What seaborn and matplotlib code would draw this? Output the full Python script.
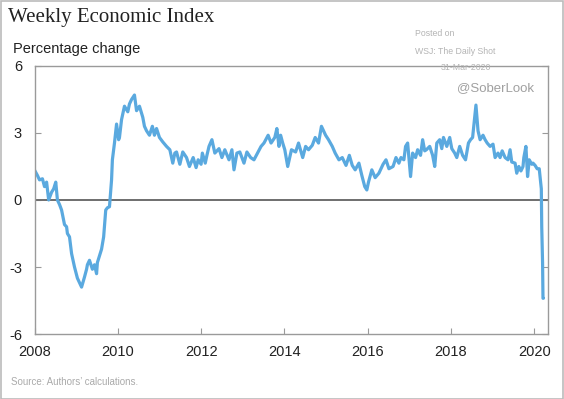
import numpy as np
import pandas as pd
import matplotlib.pyplot as plt
import seaborn as sns
from matplotlib.patches import Rectangle

# Weekly Economic Index (decimal year, percentage change)
years = [
    2008.00, 2008.07, 2008.12, 2008.19, 2008.24, 2008.29, 2008.34, 2008.41, 2008.46, 2008.51,
    2008.55, 2008.60, 2008.65, 2008.72, 2008.77, 2008.79, 2008.84, 2008.89, 2008.96, 2009.03,
    2009.08, 2009.13, 2009.20, 2009.25, 2009.27, 2009.32, 2009.39, 2009.44, 2009.49, 2009.51,
    2009.56, 2009.61, 2009.66, 2009.71, 2009.75, 2009.80, 2009.85, 2009.87, 2009.92, 2009.97,
    2010.02, 2010.04, 2010.09, 2010.16, 2010.24, 2010.28, 2010.33, 2010.40, 2010.45, 2010.52,
    2010.60, 2010.64, 2010.69, 2010.76, 2010.83, 2010.88, 2010.93, 2011.00, 2011.08, 2011.17,
    2011.25, 2011.32, 2011.37, 2011.41, 2011.49, 2011.56, 2011.65, 2011.72, 2011.81, 2011.88,
    2011.93, 2012.00, 2012.03, 2012.10, 2012.14, 2012.19, 2012.26, 2012.33, 2012.43, 2012.50,
    2012.57, 2012.67, 2012.74, 2012.79, 2012.86, 2012.93, 2013.03, 2013.10, 2013.19, 2013.27,
    2013.37, 2013.44, 2013.51, 2013.61, 2013.68, 2013.77, 2013.82, 2013.87, 2013.91, 2013.96,
    2014.01, 2014.08, 2014.17, 2014.27, 2014.34, 2014.44, 2014.51, 2014.58, 2014.67, 2014.74,
    2014.82, 2014.89, 2014.99, 2015.06, 2015.15, 2015.22, 2015.31, 2015.39, 2015.48, 2015.56,
    2015.63, 2015.70, 2015.79, 2015.86, 2015.93, 2015.98, 2016.02, 2016.10, 2016.18, 2016.27,
    2016.37, 2016.44, 2016.51, 2016.61, 2016.68, 2016.75, 2016.80, 2016.87, 2016.91, 2016.96,
    2017.03, 2017.08, 2017.15, 2017.20, 2017.27, 2017.32, 2017.37, 2017.41, 2017.49, 2017.56,
    2017.61, 2017.66, 2017.73, 2017.78, 2017.82, 2017.90, 2017.97, 2018.02, 2018.09, 2018.14,
    2018.21, 2018.28, 2018.35, 2018.42, 2018.47, 2018.52, 2018.60, 2018.65, 2018.70, 2018.77,
    2018.82, 2018.87, 2018.94, 2019.01, 2019.06, 2019.13, 2019.18, 2019.23, 2019.30, 2019.37,
    2019.42, 2019.46, 2019.54, 2019.58, 2019.63, 2019.68, 2019.73, 2019.75, 2019.80, 2019.84,
    2019.88, 2019.94, 2019.97, 2020.02, 2020.07, 2020.12, 2020.17, 2020.18, 2020.20, 2020.21,
    2020.22,
]
wei = [
    1.34, 1.10, 0.90, 0.95, 0.60, 0.80, 0.00, 0.35, 0.50, 0.80,
    0.00, -0.20, -0.45, -1.10, -1.20, -1.50, -1.65, -2.40, -3.00, -3.50,
    -3.70, -3.90, -3.45, -3.10, -2.90, -2.70, -3.10, -2.90, -3.30, -2.80,
    -2.50, -2.20, -1.65, -0.45, -0.35, -0.30, 0.90, 1.80, 2.55, 3.40,
    2.70, 2.80, 3.60, 4.20, 3.95, 4.30, 4.50, 4.70, 4.00, 4.20,
    3.70, 3.30, 3.10, 2.90, 3.30, 2.90, 3.20, 2.80, 2.60, 2.40,
    2.25, 1.65, 2.10, 2.15, 1.60, 2.15, 1.90, 1.50, 1.90, 1.45,
    1.80, 1.60, 2.10, 1.65, 2.00, 2.40, 2.70, 2.10, 2.30, 1.90,
    2.25, 1.80, 2.25, 1.35, 2.10, 2.15, 1.65, 2.15, 1.90, 1.80,
    2.15, 2.40, 2.55, 2.90, 2.55, 2.80, 3.20, 2.40, 2.90, 2.55,
    2.25, 1.50, 2.25, 2.15, 2.55, 1.90, 2.40, 2.25, 2.45, 2.80,
    2.55, 3.30, 2.90, 2.70, 2.40, 2.10, 1.80, 1.90, 1.55, 2.00,
    1.55, 1.35, 1.65, 1.10, 0.60, 0.45, 0.80, 1.35, 1.00, 1.20,
    1.60, 1.80, 1.40, 1.50, 1.90, 1.65, 1.90, 1.80, 2.40, 2.55,
    1.05, 2.10, 1.90, 2.25, 2.00, 2.70, 2.20, 2.25, 2.40, 2.00,
    1.50, 2.55, 2.70, 2.30, 2.80, 2.40, 2.80, 2.30, 2.10, 1.90,
    2.40, 2.00, 1.80, 2.55, 2.70, 2.80, 4.25, 3.10, 2.70, 2.90,
    2.70, 2.55, 2.40, 2.50, 1.90, 2.10, 1.90, 2.20, 1.90, 1.80,
    2.25, 1.70, 1.65, 1.20, 1.50, 1.30, 1.50, 1.90, 2.40, 1.05,
    1.80, 1.60, 1.65, 1.55, 1.40, 1.40, 0.50, -1.20, -2.80, -4.40,
    -4.40,
]
ytick_vals = [-6, -3, 0, 3, 6]
xtick_vals = [2008, 2010, 2012, 2014, 2016, 2018, 2020]

df = pd.DataFrame({'year': years, 'wei': wei})

sns.set_style('white')
plt.rcParams['font.family'] = ['Liberation Sans', 'DejaVu Sans']

fig = plt.figure(figsize=(5.64, 3.99), dpi=100)
ax = fig.add_axes([0.0612, 0.1629, 0.9104, 0.6717])

ax.axhline(0, color='#6e6e6e', linewidth=1.4, zorder=1)
sns.lineplot(data=df, x='year', y='wei', ax=ax, color='#5aa9df',
             linewidth=2.3, zorder=2)

ax.set_xlim(2008, 2020.33)
ax.set_ylim(-6, 6)
ax.set_xticks(xtick_vals)
ax.set_xticklabels([str(v) for v in xtick_vals])
ax.set_yticks(ytick_vals)
ax.set_yticklabels([str(v) for v in ytick_vals])
ax.set_xlabel('')
ax.set_ylabel('')

for s in ax.spines.values():
    s.set_color('#9a9a9a')
    s.set_linewidth(1.0)

ax.tick_params(axis='both', direction='in', length=4, width=0.8,
               color='#9a9a9a', labelsize=10.5, labelcolor='#222222')
ax.tick_params(axis='y', right=True, left=True, pad=9)
ax.tick_params(axis='x', bottom=True, pad=8)

fig.text(0.014, 0.955, 'Weekly Economic Index', family='Liberation Serif',
         fontsize=15, color='#222222', va='center', ha='left')
fig.text(0.023, 0.878, 'Percentage change', fontsize=10.5,
         color='#222222', va='center', ha='left')
fig.text(0.019, 0.043, "Source: Authors’ calculations.", fontsize=7,
         color='#aaaaaa', va='center', ha='left')

fig.text(0.736, 0.915, 'Posted on', fontsize=6.3, color='#b4b4b4', va='center')
fig.text(0.736, 0.870, 'WSJ: The Daily Shot', fontsize=6.3, color='#b4b4b4', va='center')
fig.text(0.871, 0.832, '31-Mar-2020', fontsize=6.3, color='#b4b4b4', va='center', ha='right')
fig.text(0.947, 0.779, '@SoberLook', fontsize=9.5, color='#a0a0a0', va='center', ha='right')

fig.add_artist(Rectangle((0.001, 0.001), 0.997, 0.997, transform=fig.transFigure,
                         fill=False, edgecolor='#bbbbbb', linewidth=1.2))

fig.savefig('out.png', dpi=100)
